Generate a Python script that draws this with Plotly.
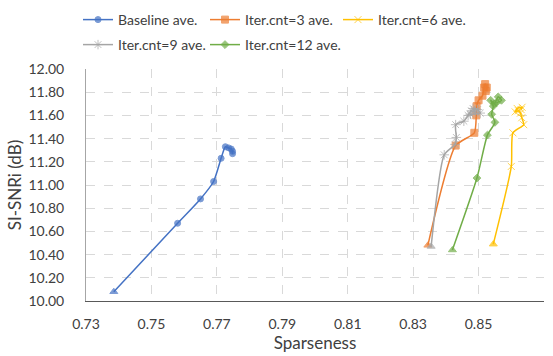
import plotly.graph_objects as go

# Data (from start point at low SI-SNRi to the final iterations)
base_x = [0.7385, 0.7580, 0.7650, 0.7690, 0.7713, 0.7726, 0.7736, 0.7744, 0.7748, 0.7748]
base_y = [10.08, 10.67, 10.88, 11.03, 11.23, 11.33, 11.32, 11.31, 11.29, 11.27]

it3_x = [0.8345, 0.8430, 0.8487, 0.8493, 0.8494, 0.8500, 0.8512, 0.8517, 0.8520, 0.8525, 0.8522]
it3_y = [10.48, 11.34, 11.45, 11.60, 11.68, 11.73, 11.77, 11.84, 11.87, 11.84, 11.81]

it6_x = [0.8545, 0.8600, 0.8605, 0.8638, 0.8632, 0.8628, 0.8622, 0.8612, 0.8618, 0.8633, 0.8630]
it6_y = [10.49, 11.16, 11.45, 11.52, 11.58, 11.62, 11.64, 11.63, 11.66, 11.67, 11.65]

it9_x = [0.8355, 0.8395, 0.8428, 0.8432, 0.8430, 0.8455, 0.8468, 0.8478, 0.8490, 0.8483, 0.8497, 0.8505, 0.8475]
it9_y = [10.47, 11.26, 11.35, 11.41, 11.52, 11.55, 11.60, 11.64, 11.63, 11.66, 11.65, 11.62, 11.61]

it12_x = [0.8420, 0.8495, 0.8527, 0.8550, 0.8540, 0.8545, 0.8537, 0.8548, 0.8560, 0.8570, 0.8555]
it12_y = [10.44, 11.06, 11.43, 11.54, 11.61, 11.68, 11.73, 11.70, 11.76, 11.73, 11.71]

x_ticks = [0.73, 0.75, 0.77, 0.79, 0.81, 0.83, 0.85, 0.87]
y_ticks = [10.0, 10.2, 10.4, 10.6, 10.8, 11.0, 11.2, 11.4, 11.6, 11.8, 12.0]

series = [
    ("Baseline ave.", base_x, base_y, "#4472C4", "circle", 6),
    ("Iter.cnt=3 ave.", it3_x, it3_y, "#ED7D31", "square", 7),
    ("Iter.cnt=6 ave.", it6_x, it6_y, "#FFC000", "x-thin-open", 7),
    ("Iter.cnt=9 ave.", it9_x, it9_y, "#A5A5A5", "asterisk-open", 8),
    ("Iter.cnt=12 ave.", it12_x, it12_y, "#70AD47", "diamond", 6),
]
legend_ids = ["legend", "legend2", "legend3", "legend4", "legend5"]
# legend slot positions (left px, top px) in the 553x356 page
legend_pos = [(78, 4), (205, 4), (338, 4), (78, 29), (205, 29)]

fig = go.Figure()
for (name, xs, ys, col, sym, sz), lg in zip(series, legend_ids):
    # reversed so the legend picks the series symbol; first (start) point drawn as triangle
    rx = list(reversed(xs))
    ry = list(reversed(ys))
    syms = [sym] * (len(rx) - 1) + ["triangle-up"]
    sizes = [sz] * (len(rx) - 1) + [7]
    fig.add_trace(go.Scatter(
        x=rx, y=ry, name=name, mode="lines+markers", legend=lg,
        line=dict(color=col, width=1.5, shape="spline", smoothing=0.6),
        marker=dict(color=col, symbol=syms, size=sizes, line=dict(color=col, width=1)),
    ))

W, H = 553, 356
leg_layout = {}
for lg, (lx, ly) in zip(legend_ids, legend_pos):
    leg_layout[lg] = dict(
        orientation="h", xanchor="left", yanchor="top",
        xref="container", yref="container", x=lx / W, y=1.0 - ly / H,
        itemwidth=30, font=dict(family="Lato, Noto Sans, sans-serif", size=14, color="#404040"),
        bgcolor="rgba(0,0,0,0)",
    )

fig.update_layout(
    width=W, height=H,
    margin=dict(l=86, r=9, t=69, b=55),
    paper_bgcolor="white", plot_bgcolor="white",
    font=dict(family="Lato, Noto Sans, sans-serif", size=14, color="#404040"),
    showlegend=True,
    **leg_layout,
)
fig.update_xaxes(
    range=[0.73, 0.87], tickvals=x_ticks, ticktext=[f"{v:.2f}" for v in x_ticks],
    showgrid=True, gridcolor="#D9D9D9", griddash="dash", gridwidth=1,
    showline=True, linecolor="#595959", linewidth=1, zeroline=False,
    ticks="", ticklabelstandoff=10, automargin=False,
    title=dict(text="Sparseness", font=dict(size=17, color="#404040"), standoff=4),
    tickfont=dict(size=14, color="#404040"),
)
fig.update_yaxes(
    range=[10.0, 12.0], tickvals=y_ticks, ticktext=[f"{v:.2f}" for v in y_ticks],
    showgrid=True, gridcolor="#D9D9D9", griddash="dash", gridwidth=1,
    showline=True, linecolor="#A6A6A6", linewidth=1, zeroline=False,
    ticks="", ticklabelstandoff=18, automargin=False,
    title=dict(text="SI-SNRi (dB)", font=dict(size=17, color="#404040"), standoff=2),
    tickfont=dict(size=14, color="#404040"),
)

fig.write_html("out.html")
